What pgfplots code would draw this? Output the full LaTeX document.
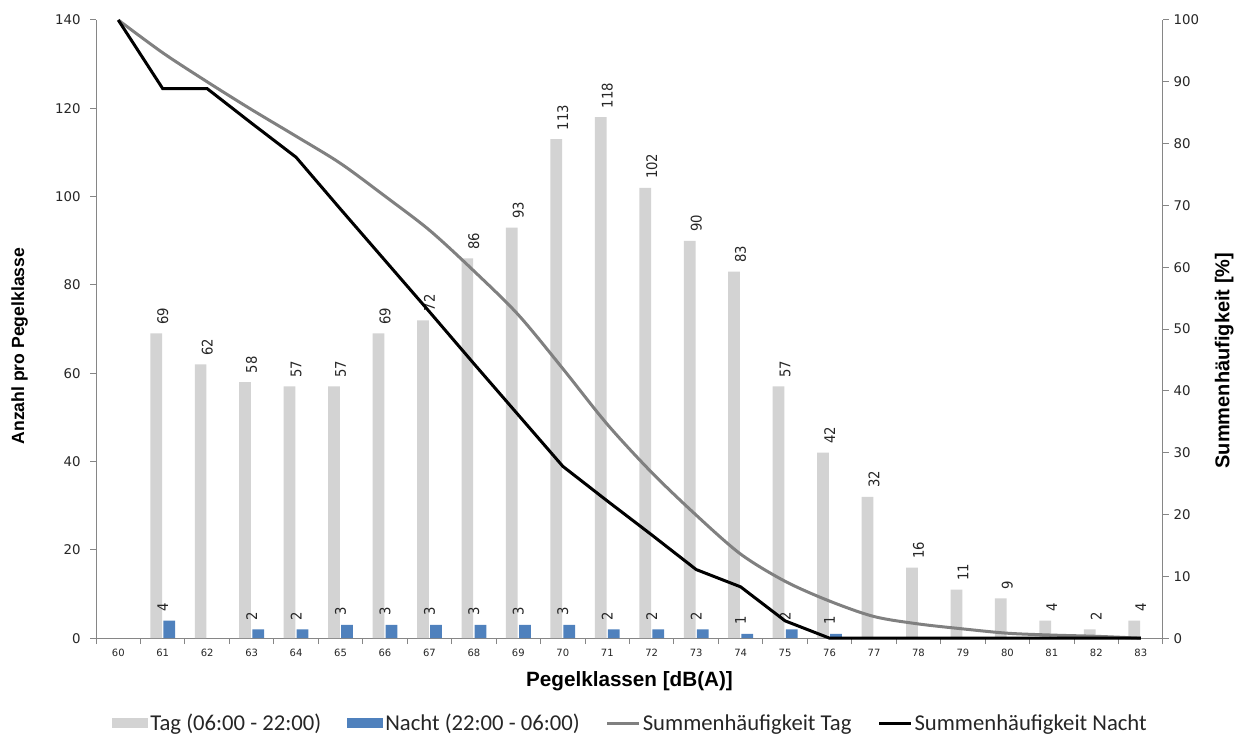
\documentclass[border=0pt]{standalone}
\usepackage{fontspec}
\setmainfont{Liberation Sans}
\newfontfamily\tickfont{DejaVu Sans}
\newfontfamily\barfont[FakeStretch=0.9]{DejaVu Sans}
\newfontfamily\legfont{Carlito}
\usepackage{pgfplots}
\pgfplotsset{compat=1.18}

\definecolor{tagbar}{RGB}{211,211,211}
\definecolor{nachtbar}{RGB}{79,129,189}
\definecolor{sumtag}{RGB}{128,128,128}
\definecolor{axisgray}{RGB}{134,134,134}
\definecolor{txt}{RGB}{38,38,38}

\pgfplotsset{
  base/.style={
    width=800pt, height=463.5pt, scale only axis,
    xmin=59.5, xmax=83.5, ymin=0,
    /pgf/number format/assume math mode=true,
    axis line style={axisgray, line width=0.75pt},
    tick style={axisgray, line width=0.75pt},
    major tick length=4.5pt,
    tick align=outside,
    tick label style={font=\tickfont\fontsize{10}{12}\selectfont, text=txt},
  },
  barlabels/.style={
    nodes near coords,
    nodes near coords style={font=\barfont\fontsize{11}{13}\selectfont, text=txt,
      inner sep=0pt, rotate=90, anchor=west, xshift=6.5pt},
  },
  boxlegend/.style={legend image code/.code={\fill[##1, draw=none] (0pt,-3.75pt) rectangle (27pt,3.75pt);}},
  linelegend/.style={legend image code/.code={\draw[##1] (0pt,0pt) -- (24pt,0pt);}},
}

\begin{document}
\begin{tikzpicture}
\begin{axis}[base, name=ax,
  ymax=140, ytick={0,20,...,140},
  yticklabel style={xshift=-3.5pt},
  axis y line*=left, axis x line*=bottom,
  xtick={59.5,60.5,...,83.5}, xticklabels={},
  extra x ticks={60,61,...,83},
  extra x tick style={major tick length=0pt,
    tick label style={font=\tickfont\fontsize{7.5}{9}\selectfont, text=txt, yshift=-4.5pt}},
  xlabel={Pegelklassen [dB(A)]},
  xlabel style={font=\bfseries\fontsize{15.5}{18}\selectfont,
    at={(axis description cs:0.5,-0.07)}, anchor=center},
  ylabel={Anzahl pro Pegelklasse},
  ylabel style={font=\bfseries\fontsize{13.2}{16}\selectfont,
    at={(axis description cs:-0.0716,0.4725)}, anchor=center},
]
\addplot[ybar, bar width=8.8pt, bar shift=-4.9pt, fill=tagbar, draw=none, barlabels]
  coordinates {(61,69) (62,62) (63,58) (64,57) (65,57) (66,69) (67,72) (68,86)
    (69,93) (70,113) (71,118) (72,102) (73,90) (74,83) (75,57) (76,42) (77,32)
    (78,16) (79,11) (80,9) (81,4) (82,2) (83,4)};
\addplot[ybar, bar width=8.8pt, bar shift=4.9pt, fill=nachtbar, draw=none, barlabels]
  coordinates {(61,4) (63,2) (64,2) (65,3) (66,3) (67,3) (68,3) (69,3) (70,3)
    (71,2) (72,2) (73,2) (74,1) (75,2) (76,1)};
\end{axis}

\begin{axis}[base,
  ymax=100, ytick={0,10,...,100},
  axis y line*=right, axis x line=none, clip=false,
  ylabel={Summenhäufigkeit [\%]},
  ylabel style={font=\bfseries\fontsize{15}{18}\selectfont,
    at={(axis description cs:1.0575,0.449)}, anchor=center},
  legend columns=4,
  legend style={at={(axis description cs:0.501,-0.1375)}, anchor=center,
    draw=none, fill=none, font=\legfont\fontsize{17}{20}\selectfont, text=txt,
    nodes={inner sep=1.5pt},
    /tikz/every even column/.append style={column sep=18pt}},
  legend cell align=left,
]
\addlegendimage{fill=tagbar, boxlegend}
\addlegendentry{Tag (06:00 - 22:00)}
\addlegendimage{fill=nachtbar, boxlegend}
\addlegendentry{Nacht (22:00 - 06:00)}
\addplot[sumtag, line width=2.25pt, smooth, tension=0.5, linelegend]
  coordinates {(60,100) (61,94.7) (62,90.0) (63,85.5) (64,81.2) (65,76.8)
    (66,71.5) (67,66.0) (68,59.4) (69,52.3) (70,43.6) (71,34.6) (72,26.8)
    (73,19.9) (74,13.6) (75,9.2) (76,6.0) (77,3.5) (78,2.3) (79,1.5) (80,0.8)
    (81,0.5) (82,0.3) (83,0)};
\addlegendentry{Summenhäufigkeit Tag}
\addplot[black, line width=2.25pt, linelegend]
  coordinates {(60,100) (61,88.9) (62,88.9) (63,83.3) (64,77.8) (65,69.4)
    (66,61.1) (67,52.8) (68,44.4) (69,36.1) (70,27.8) (71,22.2) (72,16.7)
    (73,11.1) (74,8.3) (75,2.8) (76,0) (77,0) (78,0) (79,0) (80,0) (81,0)
    (82,0) (83,0)};
\addlegendentry{Summenhäufigkeit Nacht}
\end{axis}

\pgfresetboundingbox
\path ([shift={(-72pt,-72.75pt)}]ax.south west) rectangle ([shift={(63pt,15pt)}]ax.north east);
\end{tikzpicture}
\end{document}
